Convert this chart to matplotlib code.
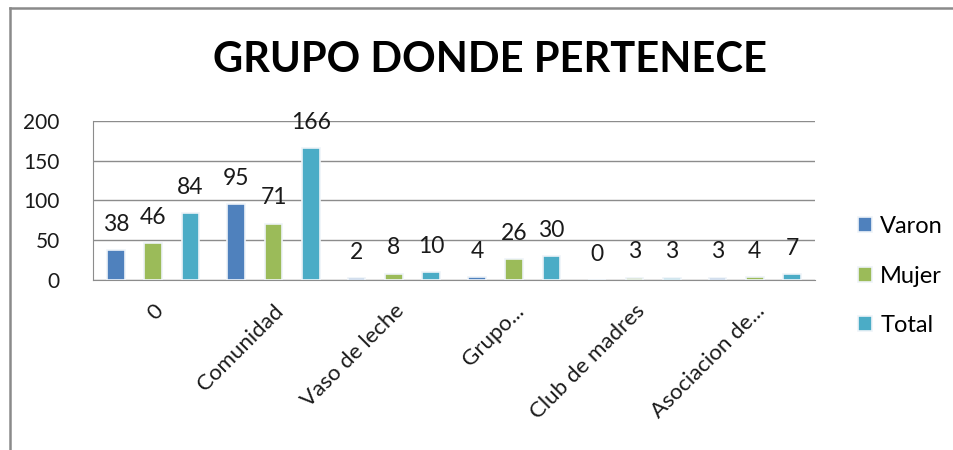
import matplotlib
matplotlib.use("Agg")
import matplotlib.pyplot as plt
import numpy as np
from matplotlib.lines import Line2D

plt.rcParams['font.family'] = ['Lato', 'DejaVu Sans']

# datos
categorias = ['0', 'Comunidad', 'Vaso de leche', 'Grupo...', 'Club de madres', 'Asociacion de...']
varon = [38, 95, 2, 4, 0, 3]
mujer = [46, 71, 8, 26, 3, 4]
total = [84, 166, 10, 30, 3, 7]
series = [('Varon', varon, '#4F81BD'),
          ('Mujer', mujer, '#9BBB59'),
          ('Total', total, '#4BACC6')]

fig = plt.figure(figsize=(9.54, 4.5), dpi=100)
ax = fig.add_axes([0.0975, 0.3778, 0.7568, 0.3533])

x = np.arange(len(categorias))
paso = 0.31
ancho = 0.145
for i, (nombre, vals, color) in enumerate(series):
    pos = x + (i - 1) * paso
    bars = ax.bar(pos, vals, ancho, color=color, edgecolor='#eef3f8',
                  linewidth=1.2, label=nombre, zorder=3)
    for b, v in zip(bars, vals):
        ax.annotate(str(v), (b.get_x() + b.get_width() / 2, v),
                    xytext=(0, 11), textcoords='offset points',
                    ha='center', va='bottom', fontsize=16.5, color='#1a1a1a')

ax.set_xlim(-0.5, len(categorias) - 0.5)
ax.set_ylim(0, 200)
ax.set_yticks(range(0, 201, 50))
ax.tick_params(axis='y', length=0, labelsize=15, pad=24, colors='#1a1a1a')
ax.set_xticks(x)
ax.set_xticklabels(categorias, rotation=45, ha='right', rotation_mode='anchor',
                   fontsize=16, color='#1a1a1a')
ax.tick_params(axis='x', length=0, pad=15)
ax.grid(axis='y', color='#8c8c8c', linewidth=1, zorder=0)
ax.set_axisbelow(True)
for s in ['top', 'right']:
    ax.spines[s].set_visible(False)
ax.spines['left'].set_color('#8c8c8c')
ax.spines['bottom'].set_color('#8c8c8c')

leg = ax.legend(loc='upper left', bbox_to_anchor=(1.03, 0.535), frameon=False,
                fontsize=17, handlelength=0.6, handleheight=0.6,
                handletextpad=0.35, labelspacing=1.2)

fig.text(0.514, 0.867, 'GRUPO DONDE PERTENECE', ha='center', va='center',
         fontsize=30, fontweight='bold', color='black')

# marco del grafico
fig.add_artist(Line2D([10 / 954, 1], [1 - 8 / 450] * 2, color='#8a8a8a',
                      lw=1.8, transform=fig.transFigure))
fig.add_artist(Line2D([10 / 954] * 2, [0, 1 - 8 / 450], color='#8a8a8a',
                      lw=1.8, transform=fig.transFigure))

fig.savefig('out.png', dpi=100)
